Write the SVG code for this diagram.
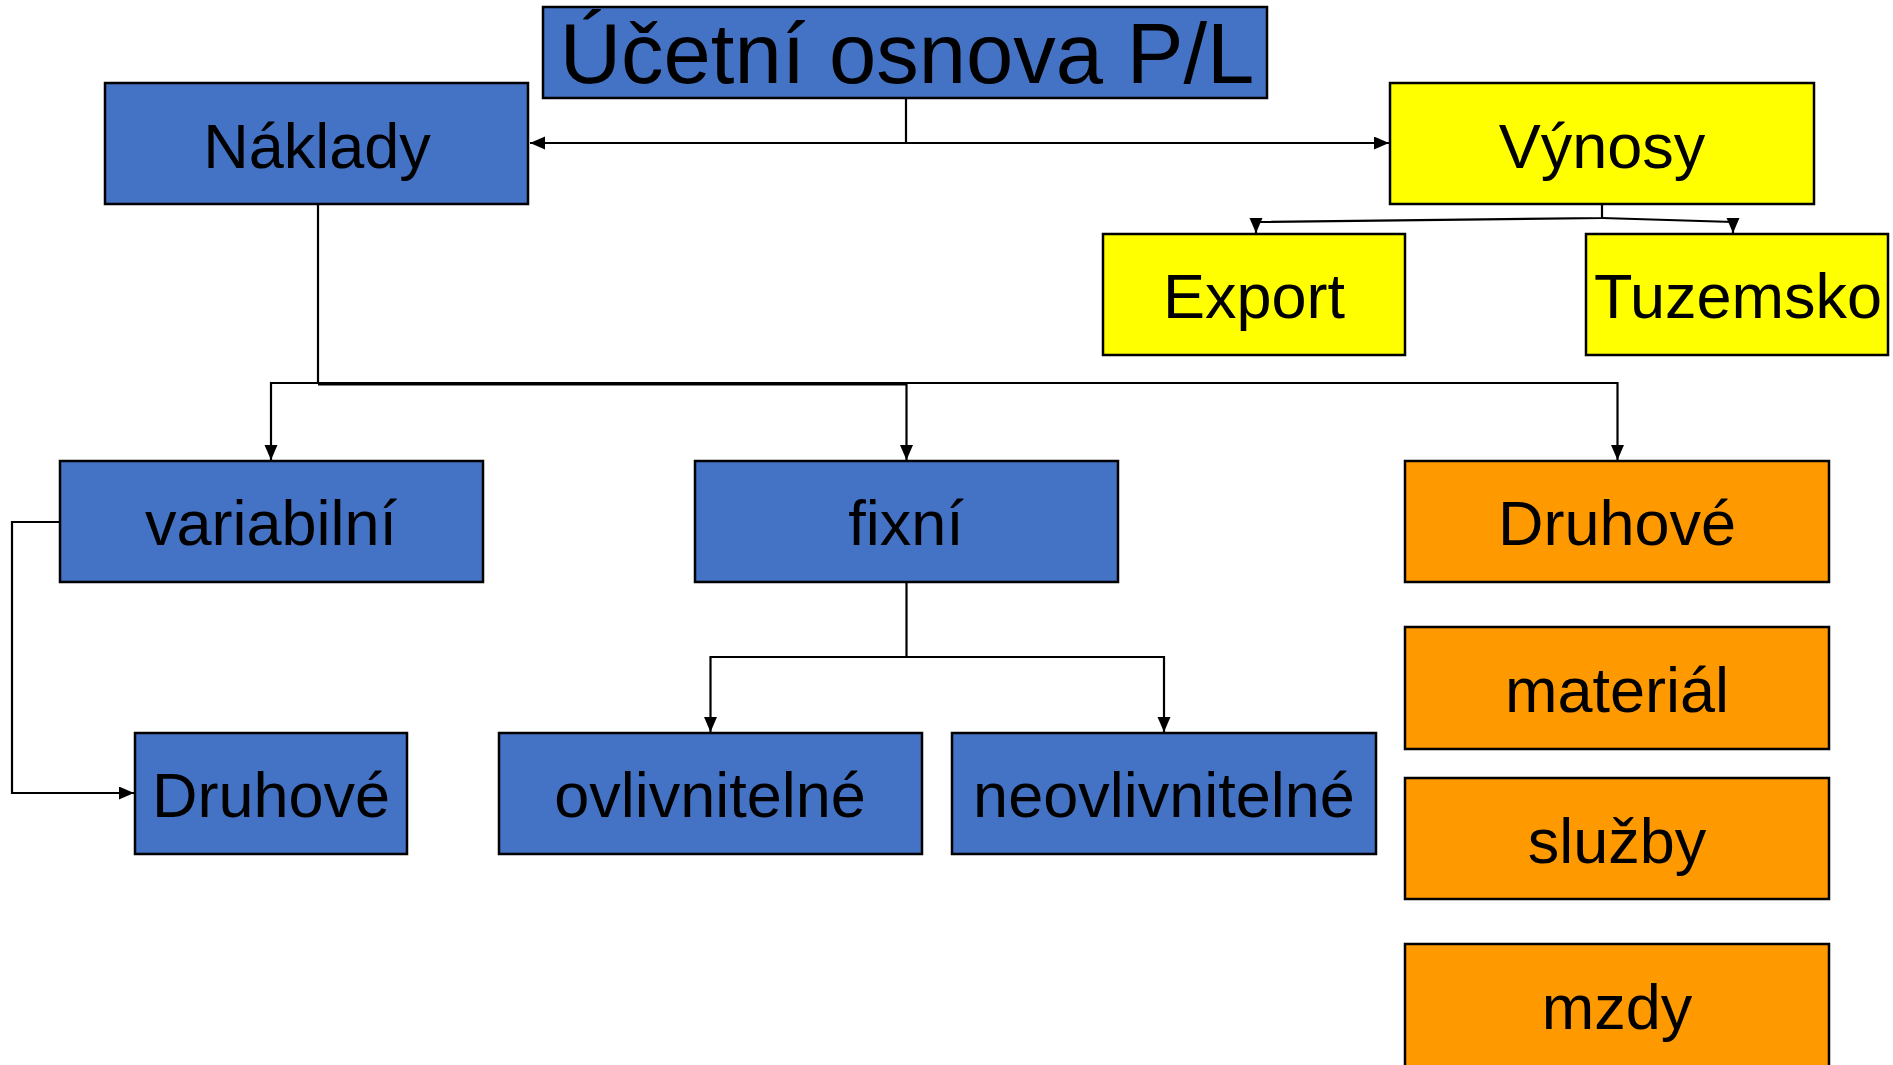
<svg xmlns="http://www.w3.org/2000/svg" width="1893" height="1065" viewBox="0 0 1893 1065">
  <style>
    .box { stroke: #000; stroke-width: 2.5; }
    .blue { fill: #4472C4; }
    .yellow { fill: #FFFF00; }
    .orange { fill: #FF9900; }
    .lbl { font-family: "Liberation Sans", Arial, sans-serif; font-size: 63px; fill: #000; text-anchor: middle; }
    .title { font-size: 85px; }
    .conn { fill: none; stroke: #000; stroke-width: 2.2; }
  </style>
  <defs>
    <marker id="arrow" markerUnits="userSpaceOnUse" markerWidth="16" markerHeight="14" refX="15" refY="6.5" orient="auto">
      <path d="M0,0 L15,6.5 L0,13 Z" fill="#000"/>
    </marker>
  </defs>
  <rect width="1893" height="1065" fill="#fff"/>

  <!-- connectors -->
  <g id="connectors">
    <path class="conn" d="M906,98 V143 H530" marker-end="url(#arrow)"/>
    <path class="conn" d="M906,143 H1389" marker-end="url(#arrow)"/>
    <path class="conn" d="M1602,204 V218 L1256,222 V233" marker-end="url(#arrow)"/>
    <path class="conn" d="M1602,218 L1733,222 V233" marker-end="url(#arrow)"/>
    <path class="conn" d="M318,204 V383 H271 V460" marker-end="url(#arrow)"/>
    <path class="conn" d="M318,383 H906.5 V460" marker-end="url(#arrow)"/>
    <path class="conn" d="M318,384.5 H906.5"/>
    <path class="conn" d="M906.5,383 H1617.5 V460" marker-end="url(#arrow)"/>
    <path class="conn" d="M60,522 H12 V793 H134" marker-end="url(#arrow)"/>
    <path class="conn" d="M906.5,582 V657 H710.5 V732" marker-end="url(#arrow)"/>
    <path class="conn" d="M906.5,657 H1164 V732" marker-end="url(#arrow)"/>
  </g>

  <!-- nodes -->
  <g id="title">
    <rect class="box blue" x="543" y="7" width="724" height="91"/>
    <text class="lbl title" x="907" y="83">Účetní osnova P/L</text>
  </g>
  <g id="naklady">
    <rect class="box blue" x="105" y="83" width="423" height="121"/>
    <text class="lbl" x="317" y="168">Náklady</text>
  </g>
  <g id="vynosy">
    <rect class="box yellow" x="1390" y="83" width="424" height="121"/>
    <text class="lbl" x="1602" y="168">Výnosy</text>
  </g>
  <g id="export">
    <rect class="box yellow" x="1103" y="234" width="302" height="121"/>
    <text class="lbl" x="1254" y="318">Export</text>
  </g>
  <g id="tuzemsko">
    <rect class="box yellow" x="1586" y="234" width="302" height="121"/>
    <text class="lbl" x="1738" y="318">Tuzemsko</text>
  </g>
  <g id="variabilni">
    <rect class="box blue" x="60" y="461" width="423" height="121"/>
    <text class="lbl" x="271" y="545">variabilní</text>
  </g>
  <g id="fixni">
    <rect class="box blue" x="695" y="461" width="423" height="121"/>
    <text class="lbl" x="906" y="545">fixní</text>
  </g>
  <g id="druhove-vynosy">
    <rect class="box orange" x="1405" y="461" width="424" height="121"/>
    <text class="lbl" x="1617" y="545">Druhové</text>
  </g>
  <g id="material">
    <rect class="box orange" x="1405" y="627" width="424" height="122"/>
    <text class="lbl" x="1617" y="712">materiál</text>
  </g>
  <g id="sluzby">
    <rect class="box orange" x="1405" y="778" width="424" height="121"/>
    <text class="lbl" x="1617" y="863">služby</text>
  </g>
  <g id="mzdy">
    <rect class="box orange" x="1405" y="944" width="424" height="130"/>
    <text class="lbl" x="1617" y="1029">mzdy</text>
  </g>
  <g id="druhove-naklady">
    <rect class="box blue" x="135" y="733" width="272" height="121"/>
    <text class="lbl" x="271" y="817">Druhové</text>
  </g>
  <g id="ovlivnitelne">
    <rect class="box blue" x="499" y="733" width="423" height="121"/>
    <text class="lbl" x="710" y="817">ovlivnitelné</text>
  </g>
  <g id="neovlivnitelne">
    <rect class="box blue" x="952" y="733" width="424" height="121"/>
    <text class="lbl" x="1164" y="817">neovlivnitelné</text>
  </g>
</svg>
